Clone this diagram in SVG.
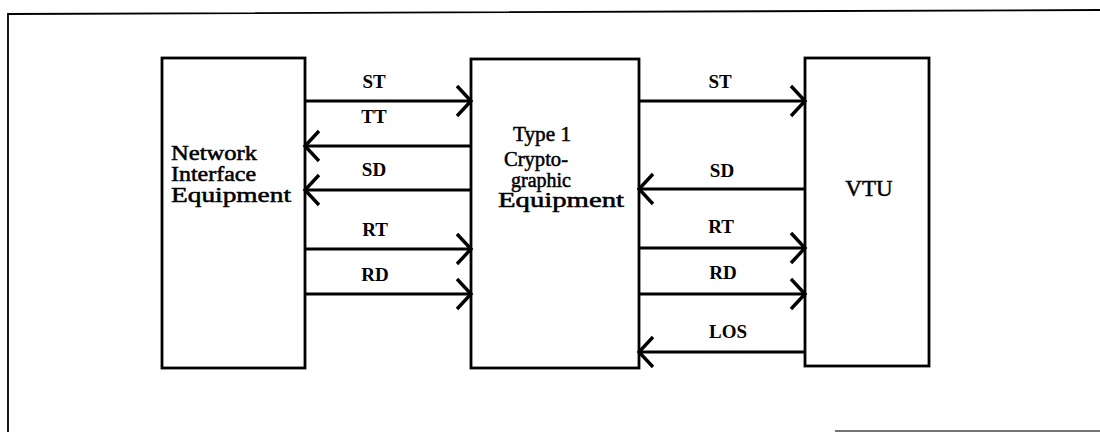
<svg xmlns="http://www.w3.org/2000/svg" width="1100" height="432" viewBox="0 0 1100 432">
<defs>
<marker id="ah" markerWidth="20" markerHeight="34" refX="16" refY="17" orient="auto" markerUnits="userSpaceOnUse">
<path d="M2,2 L16,17 L2,32" fill="none" stroke="#000" stroke-width="3.4"/>
</marker>
</defs>
<style>
.box{fill:#fff;stroke:#000;stroke-width:2.8}
.frame{fill:none;stroke:#000;stroke-width:1.8}
.conn{stroke:#000;stroke-width:2.8;fill:none;marker-end:url(#ah)}
.lbl{font-family:"Liberation Serif","Times New Roman",serif;font-weight:bold;font-size:19px;text-anchor:middle;fill:#000}
.nt{font-family:"Liberation Serif","Times New Roman",serif;font-size:20px;fill:#000;stroke:#000;stroke-width:0.5}
</style>
<rect width="1100" height="432" fill="#fff"/>
<g id="frame">
<path class="frame" d="M8,432 L8,14 L1100,10"/>
<path d="M835,431 L1100,431" stroke="#444" stroke-width="1.5"/>
</g>
<g id="nie">
<rect class="box" x="162" y="58" width="143" height="310"/>
<text class="nt" x="171" y="160" textLength="86" lengthAdjust="spacingAndGlyphs">Network</text>
<text class="nt" x="171" y="181" textLength="85" lengthAdjust="spacingAndGlyphs">Interface</text>
<text class="nt" x="171" y="202" textLength="120" lengthAdjust="spacingAndGlyphs">Equipment</text>
</g>
<g id="crypto">
<rect class="box" x="471" y="59" width="168" height="309"/>
<text class="nt" x="513" y="141" textLength="58" lengthAdjust="spacingAndGlyphs">Type 1</text>
<text class="nt" x="504" y="166" textLength="64" lengthAdjust="spacingAndGlyphs">Crypto-</text>
<text class="nt" x="511" y="187" textLength="60" lengthAdjust="spacingAndGlyphs">graphic</text>
<text class="nt" x="498" y="207" textLength="126" lengthAdjust="spacingAndGlyphs">Equipment</text>
</g>
<g id="vtu">
<rect class="box" x="805" y="58" width="124" height="308"/>
<text class="nt" x="869" y="196" text-anchor="middle" style="font-size:23px">VTU</text>
</g>
<g id="connectors">
<line class="conn" x1="305" y1="101" x2="471" y2="101"/>
<line class="conn" x1="471" y1="146" x2="305" y2="146"/>
<line class="conn" x1="471" y1="190" x2="305" y2="190"/>
<line class="conn" x1="305" y1="249" x2="471" y2="249"/>
<line class="conn" x1="305" y1="294" x2="471" y2="294"/>
<line class="conn" x1="639" y1="101" x2="805" y2="101"/>
<line class="conn" x1="805" y1="189" x2="639" y2="189"/>
<line class="conn" x1="639" y1="248" x2="805" y2="248"/>
<line class="conn" x1="639" y1="294" x2="805" y2="294"/>
<line class="conn" x1="805" y1="352" x2="639" y2="352"/>
</g>
<g id="labels">
<text class="lbl" x="374" y="88">ST</text>
<text class="lbl" x="374" y="123">TT</text>
<text class="lbl" x="374" y="176">SD</text>
<text class="lbl" x="375" y="236">RT</text>
<text class="lbl" x="375" y="281">RD</text>
<text class="lbl" x="720" y="88">ST</text>
<text class="lbl" x="722" y="177">SD</text>
<text class="lbl" x="721" y="233">RT</text>
<text class="lbl" x="723" y="279">RD</text>
<text class="lbl" x="728" y="338">LOS</text>
</g>
</svg>
